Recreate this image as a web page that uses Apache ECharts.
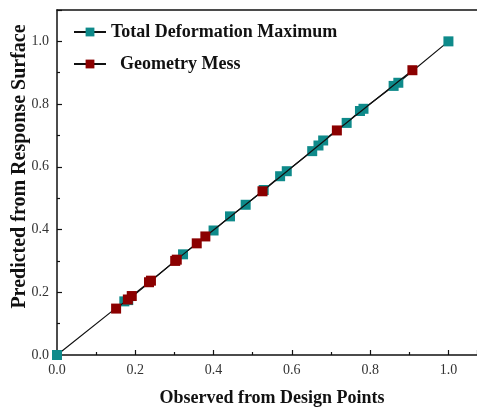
<!DOCTYPE html>
<html>
<head>
<meta charset="utf-8">
<script src="https://cdn.jsdelivr.net/npm/echarts@6/dist/echarts.min.js"></script>
<style>
  html, body { margin: 0; padding: 0; background: #fff; }
  #chart { width: 477px; height: 407px; }
</style>
</head>
<body>
<div id="chart"></div>
<script>
// observed vs predicted
const deformObs  = [0.0, 0.172, 0.182, 0.322, 0.40, 0.442, 0.482, 0.528, 0.570, 0.587, 0.652, 0.668, 0.680, 0.740, 0.774, 0.783, 0.860, 0.872, 1.0]
const deformPred = [0.0, 0.171, 0.175, 0.321, 0.397, 0.442, 0.479, 0.526, 0.570, 0.586, 0.650, 0.668, 0.684, 0.740, 0.778, 0.785, 0.858, 0.868, 1.0]
const meshObs  = [0.151, 0.181, 0.191, 0.235, 0.240, 0.302, 0.306, 0.357, 0.379, 0.525, 0.715, 0.908]
const meshPred = [0.148, 0.177, 0.188, 0.232, 0.237, 0.300, 0.304, 0.356, 0.378, 0.522, 0.716, 0.908]

const seriesNames = ['Total Deformation Maximum', '  Geometry Mess']
const xTicks = [0, 0.2, 0.4, 0.6, 0.8, 1.0]
const yTicks = [0, 0.2, 0.4, 0.6, 0.8, 1.0]

const font = '"Liberation Serif", "Times New Roman", serif'
const chart = echarts.init(document.getElementById('chart'))

const pairs = (xs, ys) => xs.map((x, i) => [x, ys[i]])

const axisCommon = {
  min: 0,
  interval: 0.2,
  nameMoveOverlap: false,
  axisLine: { show: true, lineStyle: { color: '#111', width: 1.5 } },
  axisTick: { show: true, inside: true, length: 5, lineStyle: { color: '#111', width: 1.2 } },
  minorTick: { show: true, splitNumber: 2, length: 3, lineStyle: { color: '#111', width: 1.2 } },
  splitLine: { show: false },
}

chart.setOption({
  animation: false,
  grid: { left: 57, top: 10, right: 0, bottom: 52, outerBoundsMode: 'none' },
  legend: {
    left: 68,
    top: 18,
    orient: 'vertical',
    itemGap: 14,
    itemWidth: 32,
    itemHeight: 11,
    data: seriesNames,
    textStyle: { fontFamily: font, fontWeight: 'bold', fontSize: 18, color: '#111' },
  },
  xAxis: [
    {
      ...axisCommon,
      type: 'value',
      max: 1.073,
      name: 'Observed from Design Points',
      nameLocation: 'middle',
      nameGap: 34,
      nameTextStyle: { fontFamily: font, fontWeight: 'bold', fontSize: 18, color: '#111', padding: [0, 0, 0, 10] },
      axisLabel: {
        fontFamily: font, fontSize: 14, color: '#333', margin: 8,
        showMaxLabel: false,
        formatter: v => xTicks.includes(+v.toFixed(2)) ? v.toFixed(1) : '',
      },
    },
    {
      type: 'value',
      position: 'top',
      min: 0, max: 1.073,
      axisLine: { show: true, lineStyle: { color: '#111', width: 1.5 } },
      axisTick: { show: false },
      axisLabel: { show: false },
      splitLine: { show: false },
    },
  ],
  yAxis: {
    ...axisCommon,
    type: 'value',
    max: 1.1,
    name: 'Predicted from Response Surface',
    nameLocation: 'middle',
    nameGap: 27,
    nameTextStyle: { fontFamily: font, fontWeight: 'bold', fontSize: 20, color: '#111', padding: [0, 0, 0, 32] },
    axisLabel: {
      fontFamily: font, fontSize: 14, color: '#333', margin: 8,
      formatter: v => yTicks.includes(+v.toFixed(2)) ? v.toFixed(1) : '',
    },
  },
  series: [
    {
      name: seriesNames[0],
      type: 'line',
      data: pairs(deformObs, deformPred),
      symbol: 'rect',
      symbolSize: 10,
      lineStyle: { color: '#111', width: 1.2 },
      itemStyle: { color: '#0e8a8a', borderWidth: 0 },
      z: 2,
    },
    {
      name: seriesNames[1],
      type: 'line',
      data: pairs(meshObs, meshPred),
      symbol: 'rect',
      symbolSize: 10,
      lineStyle: { color: '#111', width: 1.2 },
      itemStyle: { color: '#8b0000', borderWidth: 0 },
      z: 3,
    },
  ],
})
</script>
</body>
</html>
